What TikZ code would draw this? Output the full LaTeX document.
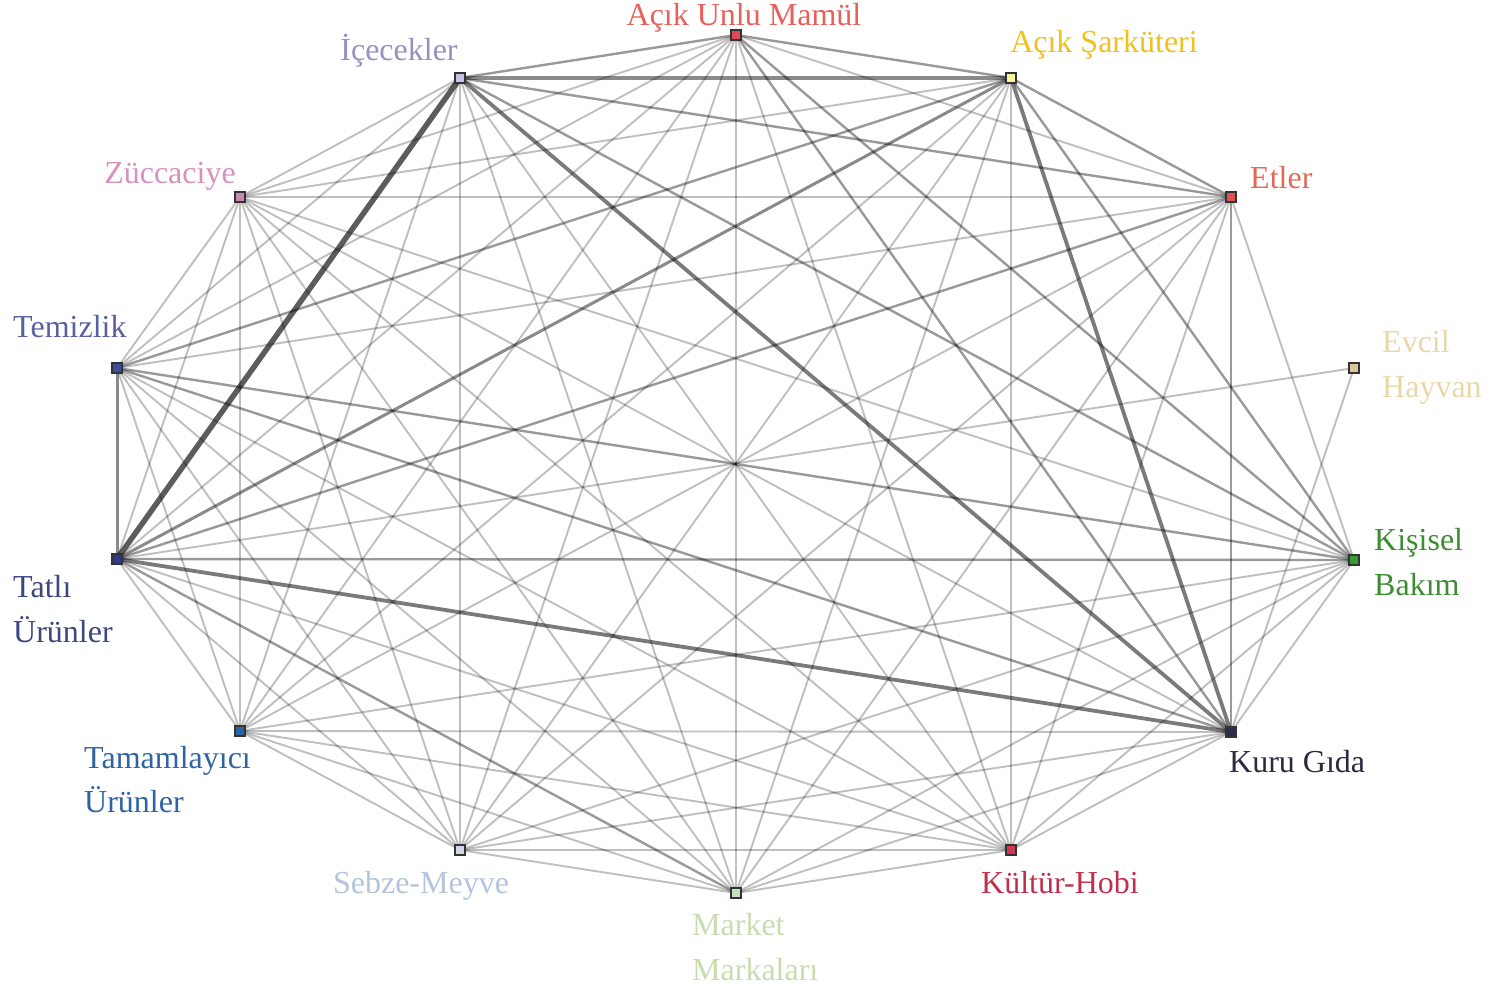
\documentclass[tikz,border=0pt]{standalone}
\usepackage{fontspec}
\setmainfont{Liberation Serif}
\pgfdeclarelayer{bg}
\pgfsetlayers{bg,main}
\definecolor{cU}{HTML}{E04858}\definecolor{tU}{HTML}{E8605C}
\definecolor{cS}{HTML}{F8F8A0}\definecolor{tS}{HTML}{F0C020}
\definecolor{cE}{HTML}{E05050}\definecolor{tE}{HTML}{E06A5A}
\definecolor{cEV}{HTML}{D8C898}\definecolor{tEV}{HTML}{E8D8A8}
\definecolor{cK}{HTML}{30A030}\definecolor{tK}{HTML}{3C8C32}
\definecolor{cG}{HTML}{2A2A50}\definecolor{tG}{HTML}{2B2B40}
\definecolor{cH}{HTML}{D03858}\definecolor{tH}{HTML}{C0304C}
\definecolor{cM}{HTML}{C8DCC0}\definecolor{tM}{HTML}{C9DCB0}
\definecolor{cSM}{HTML}{D0D8E8}\definecolor{tSM}{HTML}{B4C4DC}
\definecolor{cTM}{HTML}{2A64A8}\definecolor{tTM}{HTML}{2F64A4}
\definecolor{cTA}{HTML}{2C3C88}\definecolor{tTA}{HTML}{3C4680}
\definecolor{cTE}{HTML}{4050A0}\definecolor{tTE}{HTML}{5860A0}
\definecolor{cZ}{HTML}{C888B0}\definecolor{tZ}{HTML}{D890C0}
\definecolor{cI}{HTML}{C8C0E8}\definecolor{tI}{HTML}{9890C0}
\begin{document}
\begin{tikzpicture}[x=1pt,y=-1pt,
  vertex/.style={rectangle, draw=black!80, line width=1.3pt, minimum size=10pt, inner sep=0pt},
  lbl/.style={font=\fontsize{32}{38}\selectfont, inner sep=0pt},
  w1/.style={draw=black, draw opacity=0.25, line width=1.9pt},
  w2/.style={draw=black, draw opacity=0.40, line width=2.4pt},
  w3/.style={draw=black, draw opacity=0.46, line width=3pt},
  w4/.style={draw=black, draw opacity=0.52, line width=3.8pt},
  w5/.style={draw=black, draw opacity=0.64, line width=5.5pt}]
\useasboundingbox (0,0) rectangle (1499,990);

% category vertices
\node[vertex, fill=cU]  (U)  at (736,35)   {};
\node[vertex, fill=cS]  (S)  at (1011,78)  {};
\node[vertex, fill=cE]  (E)  at (1231,197) {};
\node[vertex, fill=cEV] (EV) at (1354,368) {};
\node[vertex, fill=cK]  (K)  at (1354,560) {};
\node[vertex, fill=cG]  (G)  at (1231,732) {};
\node[vertex, fill=cH]  (H)  at (1011,850) {};
\node[vertex, fill=cM]  (M)  at (736,893)  {};
\node[vertex, fill=cSM] (SM) at (460,850)  {};
\node[vertex, fill=cTM] (TM) at (240,731)  {};
\node[vertex, fill=cTA] (TA) at (117,559)  {};
\node[vertex, fill=cTE] (TE) at (117,368)  {};
\node[vertex, fill=cZ]  (Z)  at (240,197)  {};
\node[vertex, fill=cI]  (I)  at (460,78)   {};

% co-occurrence links, width by strength
\begin{pgfonlayer}{bg}
\foreach \a/\b in {U/E,U/H,U/M,U/SM,U/TM,U/TA,U/TE,U/Z,
  S/H,S/M,S/SM,S/TM,S/Z,
  E/K,E/H,E/M,E/SM,E/TM,E/TE,E/Z,
  K/G,K/H,K/M,K/SM,K/TM,K/Z,
  G/H,G/M,G/SM,G/TM,G/Z,
  H/M,H/SM,H/TM,H/TA,H/TE,H/Z,H/I,
  M/SM,M/TM,M/TE,M/Z,M/I,
  SM/TM,SM/TA,SM/TE,SM/Z,SM/I,
  TM/TA,TM/TE,TM/Z,TM/I,
  TA/Z,TE/Z,TE/I,Z/I,EV/TA,EV/G}
  \draw[w1] (\a.center) -- (\b.center);
\foreach \a/\b in {TA/K,TE/K,TA/M,TA/E,U/G,E/G,TE/S,I/E,I/K,S/E,U/I,U/S,TE/G,S/K,U/K}
  \draw[w2] (\a.center) -- (\b.center);
\foreach \a/\b in {I/S,S/TA,TE/TA}
  \draw[w3] (\a.center) -- (\b.center);
\foreach \a/\b in {I/G,S/G,TA/G}
  \draw[w4] (\a.center) -- (\b.center);
\draw[w5] (I.center) -- (TA.center);
\end{pgfonlayer}

% labels
\node[lbl, text=tU, anchor=base] (lU) at (744,26) {Açık Unlu Mamül};
\node[lbl, text=tI, anchor=base] (lI) at (399,60) {İçecekler};
\node[lbl, text=tS, anchor=base] (lS) at (1104,53) {Açık Şarküteri};
\node[lbl, text=tE, anchor=base west] (lE) at (1250,188) {Etler};
\node[lbl, text=tZ, anchor=base] (lZ) at (170,183) {Züccaciye};
\node[lbl, text=tTE, anchor=base west] (lTE) at (13,337) {Temizlik};
\node[lbl, text=tEV, anchor=base west] (lEVa) at (1382,352) {Evcil};
\node[lbl, text=tEV, anchor=base west] (lEVb) at (1382,397) {Hayvan};
\node[lbl, text=tK, anchor=base west] (lKa) at (1374,550) {Kişisel};
\node[lbl, text=tK, anchor=base west] (lKb) at (1374,595) {Bakım};
\node[lbl, text=tTA, anchor=base west] (lTAa) at (13,597) {Tatlı};
\node[lbl, text=tTA, anchor=base west] (lTAb) at (13,642) {Ürünler};
\node[lbl, text=tG, anchor=base west] (lG) at (1229,772) {Kuru Gıda};
\node[lbl, text=tTM, anchor=base west] (lTMa) at (84,768) {Tamamlayıcı};
\node[lbl, text=tTM, anchor=base west] (lTMb) at (84,812) {Ürünler};
\node[lbl, text=tSM, anchor=base] (lSM) at (421,893) {Sebze-Meyve};
\node[lbl, text=tH, anchor=base west] (lH) at (981,893) {Kültür-Hobi};
\node[lbl, text=tM, anchor=base west] (lMa) at (692,935) {Market};
\node[lbl, text=tM, anchor=base west] (lMb) at (692,980) {Markaları};
\end{tikzpicture}
\end{document}
